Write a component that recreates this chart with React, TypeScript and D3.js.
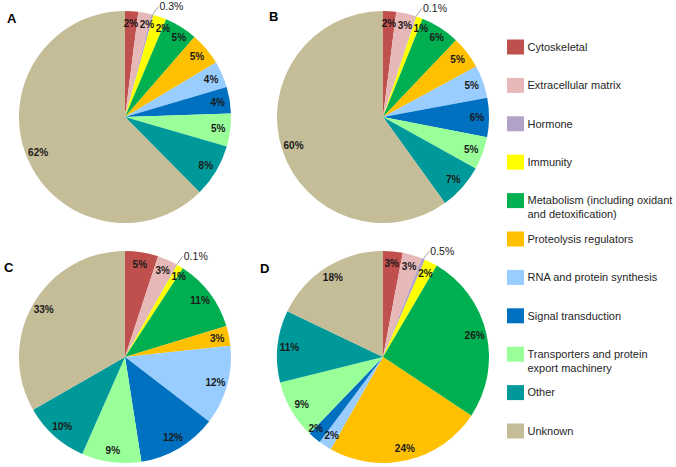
import React from "react";
import * as d3 from "d3";

const categories = [
  "Cytoskeletal",
  "Extracellular matrix",
  "Hormone",
  "Immunity",
  "Metabolism (including oxidant and detoxification)",
  "Proteolysis regulators",
  "RNA and protein synthesis",
  "Signal transduction",
  "Transporters and protein export machinery",
  "Other",
  "Unknown",
];

// legend text broken the way the original wraps it
const legendLines = [
  ["Cytoskeletal"],
  ["Extracellular matrix"],
  ["Hormone"],
  ["Immunity"],
  ["Metabolism (including oxidant", "and detoxification)"],
  ["Proteolysis regulators"],
  ["RNA and protein synthesis"],
  ["Signal transduction"],
  ["Transporters and protein", "export machinery"],
  ["Other"],
  ["Unknown"],
];

const colors = [
  "#C0504D",
  "#E6B9B8",
  "#B3A2C7",
  "#FFFF00",
  "#00B050",
  "#FFC000",
  "#99CCFF",
  "#0070C0",
  "#99FF99",
  "#009999",
  "#C4BD97",
];

const valuesA = [2, 2, 0.3, 2, 5, 5, 4, 4, 5, 8, 62];
const valuesB = [2, 3, 0.1, 1, 6, 5, 5, 6, 5, 7, 60];
const valuesC = [5, 3, 0.1, 1, 11, 3, 12, 12, 9, 10, 33];
const valuesD = [3, 3, 0.5, 2, 26, 24, 2, 2, 9, 11, 18];

const panels = [
  { letter: "A", values: valuesA, cx: 125, cy: 117, lx: 7, ly: 23 },
  { letter: "B", values: valuesB, cx: 383, cy: 117, lx: 269, ly: 21 },
  { letter: "C", values: valuesC, cx: 125, cy: 357, lx: 4, ly: 272 },
  { letter: "D", values: valuesD, cx: 383, cy: 357, lx: 260, ly: 273 },
];

const W = 676;
const H = 467;
const R = 106;
const labelR = R - 12;
const font = "Arial, 'Liberation Sans', sans-serif";
const labelSize = 10;

const pie = d3
  .pie<number>()
  .sort(null)
  .value((d) => d);
const arc = d3.arc<d3.PieArcDatum<number>>().innerRadius(0).outerRadius(R);

// rough width of a bold label
const textW = (s: string) =>
  s.split("").reduce((a, ch) => a + (ch === "%" ? 0.89 : ch === "." ? 0.28 : 0.556), 0) *
  labelSize;

const Pie = ({ panel }: { panel: (typeof panels)[number] }) => {
  const slices = pie(panel.values);

  // inside labels, nudged sideways when neighbours collide
  const inside: { i: number; x: number; y: number; w: number; text: string }[] = [];
  slices.forEach((s, i) => {
    if (s.data < 1) return;
    const mid = (s.startAngle + s.endAngle) / 2;
    const text = `${s.data}%`;
    const lab = {
      i,
      x: Math.sin(mid) * labelR,
      y: -Math.cos(mid) * labelR,
      w: textW(text),
      text,
    };
    const prev = inside[inside.length - 1];
    if (prev) {
      const need = (prev.w + lab.w) / 2 + 1.5;
      const dx = lab.x - prev.x;
      if (Math.abs(dx) < need && Math.abs(lab.y - prev.y) < 10) {
        const dir = Math.cos(mid) >= 0 ? 1 : -1;
        lab.x = prev.x + dir * need;
      }
    }
    inside.push(lab);
  });

  return (
    <g>
      <text
        x={panel.lx}
        y={panel.ly}
        fontFamily={font}
        fontSize={13}
        fontWeight="bold"
        fill="#000"
      >
        {panel.letter}
      </text>
      <g transform={`translate(${panel.cx},${panel.cy})`}>
        {slices.map((s, i) => (
          <path key={i} d={arc(s) || ""} fill={colors[i]} />
        ))}
        {slices.map((s, i) => {
          if (s.data >= 1) return null;
          // tiny slice: label outside with a short leader
          const mid = (s.startAngle + s.endAngle) / 2;
          const x0 = Math.sin(mid) * R;
          const y0 = -Math.cos(mid) * R;
          const x1 = x0 + 6;
          const y1 = y0 - 8;
          return (
            <g key={i}>
              <line x1={x0} y1={y0} x2={x1} y2={y1} stroke="#8c8c8c" strokeWidth={0.8} />
              <text
                x={x1 + 1}
                y={y1}
                dy="0.35em"
                fontFamily={font}
                fontSize={10.5}
                fill="#1a1a1a"
              >
                {`${s.data}%`}
              </text>
            </g>
          );
        })}
        {inside.map((l) => (
          <text
            key={l.i}
            x={l.x}
            y={l.y}
            dy="0.35em"
            textAnchor="middle"
            fontFamily={font}
            fontSize={labelSize}
            fontWeight="bold"
            fill="#1a1a1a"
          >
            {l.text}
          </text>
        ))}
      </g>
    </g>
  );
};

export default function App() {
  const y = d3
    .scaleLinear()
    .domain([0, categories.length - 1])
    .range([47, 431]);
  return (
    <svg
      width={W}
      height={H}
      style={{ position: "absolute", left: 0, top: 0, background: "#fff" }}
    >
      {panels.map((p) => (
        <Pie key={p.letter} panel={p} />
      ))}
      <g>
        {categories.map((c, i) => (
          <g key={c} transform={`translate(507,${y(i)})`}>
            <rect x={0} y={-7.5} width={17} height={15} fill={colors[i]} />
            {legendLines[i].map((t, j) => (
              <text
                key={j}
                x={20.5}
                y={j * 14}
                dy="0.35em"
                fontFamily={font}
                fontSize={11}
                fill="#262626"
              >
                {t}
              </text>
            ))}
          </g>
        ))}
      </g>
    </svg>
  );
}
